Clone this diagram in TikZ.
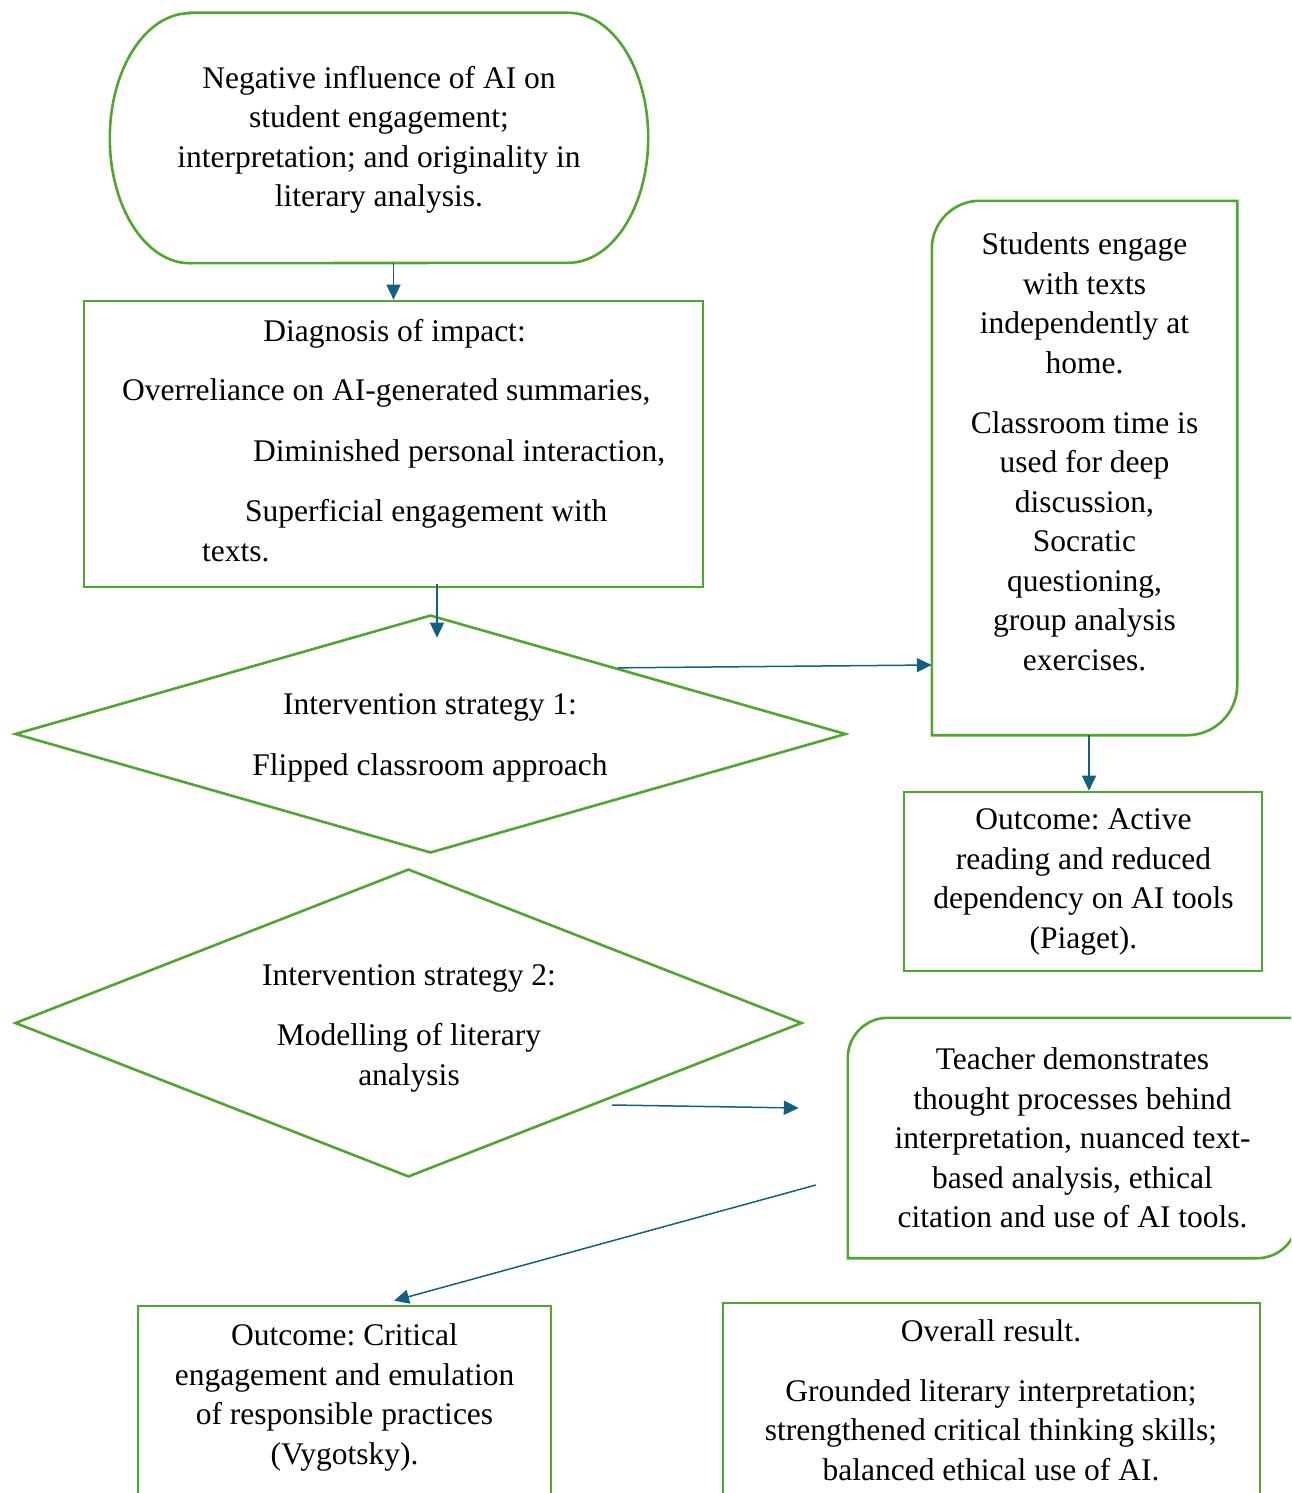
\documentclass[tikz,border=0pt]{standalone}
\usepackage{fontspec}
\setmainfont{Liberation Serif}
\usepackage{tikz}
\usetikzlibrary{shapes.geometric,arrows.meta,calc}
\frenchspacing
\definecolor{boxgreen}{HTML}{4EA72E}
\definecolor{flowblue}{HTML}{156082}
\tikzstyle{outline} = [draw=boxgreen, line width=2.6pt]
\tikzstyle{block} = [outline, rectangle, inner sep=0pt]
\tikzstyle{frame} = [rectangle, inner sep=0pt]
\tikzstyle{decision} = [outline, diamond, inner sep=0pt]
\tikzstyle{txt} = [font=\fontsize{31.5}{39.5}\selectfont, align=center, inner sep=0pt, anchor=base]
\tikzstyle{flow} = [->, draw=flowblue, line width=1.5pt]

\begin{document}
\begin{tikzpicture}[x=1pt, y=1pt, >={Triangle[length=15pt, width=14pt]}]
    \useasboundingbox (0,0) rectangle (1291,-1493);
    \clip (0,0) rectangle (1291,-1493);

    % shapes
    \node [frame, minimum width=538, minimum height=250] (neg) at (379,-138) {};
    \draw [outline] ([xshift=80]neg.north west) -- ([xshift=-80]neg.north east)
        arc [start angle=90, end angle=-90, x radius=80, y radius=125]
        -- ([xshift=80]neg.south west)
        arc [start angle=270, end angle=90, x radius=80, y radius=125] -- cycle;
    \node [block, minimum width=619, minimum height=286] (diag) at (393.5,-444) {};
    \node [frame, minimum width=305, minimum height=534] (stud) at (1084.5,-468) {};
    \draw [outline] (stud.south west) -- ([yshift=-48]stud.north west)
        arc [start angle=180, end angle=90, radius=48] -- (stud.north east)
        -- ([yshift=50]stud.south east)
        arc [start angle=0, end angle=-90, radius=50] -- cycle;
    \node [decision, minimum width=831, minimum height=238] (strat1) at (430.5,-734) {};
    \node [block, minimum width=358, minimum height=179] (out1) at (1083,-881.5) {};
    \node [decision, minimum width=787, minimum height=308] (strat2) at (408.5,-1023) {};
    \node [frame, minimum width=449, minimum height=240] (teach) at (1072.5,-1138) {};
    \draw [outline] (teach.south west) -- ([yshift=-40]teach.north west)
        arc [start angle=180, end angle=90, radius=40] -- (teach.north east)
        -- ([yshift=40]teach.south east)
        arc [start angle=0, end angle=-90, radius=40] -- cycle;
    \node [block, minimum width=413, minimum height=230] (out2) at (344.5,-1421) {};
    \node [block, minimum width=537, minimum height=233] (overall) at (991.5,-1419.5) {};

    % texts (base = last line)
    \node [txt] (negtxt) at (379,-206.7) {Negative influence of AI on\\student engagement;\\interpretation; and originality in\\literary analysis.};
    \node [txt] (diaghead) at (394.5,-341.7) {Diagnosis of impact:};
    \node [txt, anchor=base west] (diag1) at (122,-400) {Overreliance on AI-generated summaries,};
    \node [txt, anchor=base west] (diag2) at (253,-461.7) {Diminished personal interaction,};
    \node [txt, anchor=base west] (diag3) at (245,-521.7) {Superficial engagement with};
    \node [txt, anchor=base west] (diag4) at (202,-561.7) {texts.};
    \node [txt] (studtxt) at (1084.5,-670) {Students engage\\with texts\\independently at\\home.\\[20.5pt]Classroom time is\\used for deep\\discussion,\\Socratic\\questioning,\\group analysis\\exercises.};
    \node [txt] (strat1txt) at (430,-775) {Intervention strategy 1:\\[21pt]Flipped classroom approach};
    \node [txt] (out1txt) at (1083.5,-948.3) {Outcome: Active\\reading and reduced\\dependency on AI tools\\(Piaget).};
    \node [txt] (strat2txt) at (409,-1085) {Intervention strategy 2:\\[20.5pt]Modelling of literary\\analysis};
    \node [txt] (teachtxt) at (1072.5,-1227.7) {Teacher demonstrates\\thought processes behind\\interpretation, nuanced text-\\based analysis, ethical\\citation and use of AI tools.};
    \node [txt] (out2txt) at (344.5,-1464.3) {Outcome: Critical\\engagement and emulation\\of responsible practices\\(Vygotsky).};
    \node [txt] (overalltxt) at (991,-1480) {Overall result.\\[20.5pt]Grounded literary interpretation;\\strengthened critical thinking skills;\\balanced ethical use of AI.};

    % connectors
    \draw [flow] (neg.south -| diag.north) -- (diag.north);
    \draw [flow] ([xshift=43.5,yshift=4]diag.south) -- ([xshift=6.5,yshift=-24]strat1.north);
    \draw [flow] ($(strat1.north)!0.45!(strat1.east)$) -- ([yshift=-197]stud.west);
    \draw [flow] ([xshift=4.5]stud.south) -- ([xshift=6]out1.north);
    \draw [flow] ([shift={(203.5,-82)}]strat2.center) -- ([shift={(-49,30)}]teach.west);
    \draw [flow] ([shift={(-32,-47)}]teach.west) -- ([shift={(49.5,4)}]out2.north);
\end{tikzpicture}
\end{document}
